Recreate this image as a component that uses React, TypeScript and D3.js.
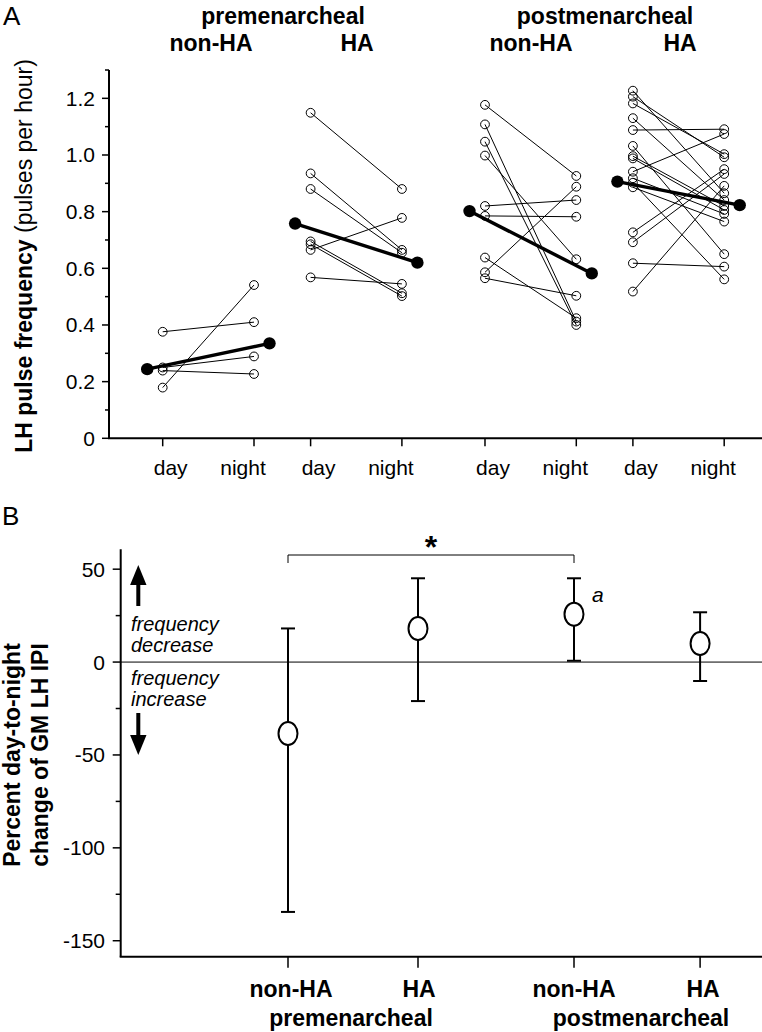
import React from "react";
import * as d3 from "d3";

// ---------- DATA ----------
const stages = ["premenarcheal", "postmenarcheal"];
const groupLabels = ["non-HA", "HA", "non-HA", "HA"];
const sessions = ["day", "night"];

// Panel A: individual LH pulse frequencies (pulses per hour), paired day -> night
const preNonHADay = [0.376, 0.25, 0.239, 0.179];
const preNonHANight = [0.41, 0.289, 0.227, 0.541];
const preHADay = [1.149, 0.935, 0.88, 0.695, 0.685, 0.665, 0.568];
const preHANight = [0.88, 0.665, 0.655, 0.512, 0.502, 0.778, 0.545];
const postNonHADay = [1.177, 1.108, 1.047, 0.998, 0.82, 0.785, 0.638, 0.586, 0.565];
const postNonHANight = [0.926, 0.412, 0.4, 0.632, 0.841, 0.782, 0.424, 0.888, 0.503];
const postHADay = [1.227, 1.206, 1.182, 1.13, 1.088, 1.032, 0.996, 0.988, 0.941, 0.918, 0.902, 0.886, 0.727, 0.692, 0.618, 0.518];
const postHANight = [0.865, 0.992, 1.003, 0.841, 1.091, 0.65, 0.82, 0.806, 1.074, 0.792, 0.561, 0.765, 0.95, 0.933, 0.606, 0.891];
const meanDay = [0.244, 0.758, 0.802, 0.906];
const meanNight = [0.335, 0.62, 0.582, 0.823];
const aTicks = [0, 0.2, 0.4, 0.6, 0.8, 1.0, 1.2];
const aMinorTicks = [0.1, 0.3, 0.5, 0.7, 0.9, 1.1, 1.3];

// Panel B: percent day-to-night change of GM LH IPI
const bMean = [-38.4, 18.1, 25.8, 10];
const bUpper = [18.1, 45.1, 45.1, 26.8];
const bLower = [-134.5, -21, 0.7, -10.2];
const bTicks = [50, 0, -50, -100, -150];
const bMinorTicks = [25, -25, -75, -125];

// ---------- LAYOUT ----------
const W = 762;
const H = 1032;
const FONT = "'Liberation Sans', Arial, Helvetica, sans-serif";

const groupsA = [
  { day: preNonHADay, night: preNonHANight },
  { day: preHADay, night: preHANight },
  { day: postNonHADay, night: postNonHANight },
  { day: postHADay, night: postHANight },
];
// column slots (in day-night spacing units) for each group's day column
const groupSlot = [0, 1.62, 3.53, 5.15];

const yA = d3.scaleLinear().domain([0, 1.3]).range([438.3, 70]);
const xA = d3.scaleLinear().domain([0, 1]).range([162.7, 254]);
const axA = 109;

const yB = d3.scaleLinear().domain([-158.6, 60.7]).range([956.7, 549.3]);
const bSlot = [0, 1, 2.2, 3.17];
const xB = d3.scaleLinear().domain([0, 1]).range([288, 418]);
const axB = 120.7;

const fmtA = (v: number) => (v === 0 ? "0" : d3.format(".1f")(v));

export default function App() {
  const meanOff = 15.5;
  return (
    <svg
      width={W}
      height={H}
      viewBox={`0 0 ${W} ${H}`}
      style={{ position: "absolute", left: 0, top: 0, background: "#fff" }}
      fontFamily={FONT}
    >
      <rect x={0} y={0} width={W} height={H} fill="#fff" />
      {/* ===== Panel A ===== */}
      <text x={3} y={25} fontSize={26}>A</text>

      {/* headers */}
      {stages.map((s, i) => (
        <text key={s} x={[283, 605][i]} y={24} fontSize={23} fontWeight="bold" textAnchor="middle">
          {s}
        </text>
      ))}
      {groupLabels.map((g, i) => (
        <text key={"ga" + i} x={[211, 357, 531, 680][i]} y={51} fontSize={23} fontWeight="bold" textAnchor="middle">
          {g}
        </text>
      ))}

      {/* y axis A */}
      <line x1={axA} x2={axA} y1={yA(1.3)} y2={yA(0)} stroke="#000" strokeWidth={2} />
      {aTicks.map((t) => (
        <g key={"at" + t}>
          <line x1={axA - 7} x2={axA} y1={yA(t)} y2={yA(t)} stroke="#000" strokeWidth={1.5} />
          <text x={95} y={yA(t) + 7.5} fontSize={21} textAnchor="end">
            {fmtA(t)}
          </text>
        </g>
      ))}
      {aMinorTicks.map((t) => (
        <line key={"am" + t} x1={axA - 4} x2={axA} y1={yA(t)} y2={yA(t)} stroke="#000" strokeWidth={1.5} />
      ))}
      {/* x axis A */}
      <line x1={axA - 1} x2={W} y1={yA(0)} y2={yA(0)} stroke="#000" strokeWidth={2} />
      {groupSlot.map((g, gi) =>
        sessions.map((s, si) => (
          <g key={"xa" + gi + s}>
            <line x1={xA(g + si)} x2={xA(g + si)} y1={yA(0)} y2={yA(0) + 8} stroke="#000" strokeWidth={1.5} />
            <text x={xA(g + si) + (si === 0 ? 8 : -11)} y={475} fontSize={21} textAnchor="middle">
              {s}
            </text>
          </g>
        ))
      )}
      {/* y label A */}
      <text transform={`translate(32,256) rotate(-90)`} fontSize={23} textAnchor="middle">
        <tspan fontWeight="bold">LH pulse frequency</tspan>
        <tspan> (pulses per hour)</tspan>
      </text>

      {/* individual lines */}
      {groupsA.map((g, gi) => (
        <g key={"grp" + gi}>
          {g.day.map((d, i) => (
            <line
              key={"l" + i}
              x1={xA(groupSlot[gi])}
              y1={yA(d)}
              x2={xA(groupSlot[gi] + 1)}
              y2={yA(g.night[i])}
              stroke="#000"
              strokeWidth={1}
            />
          ))}
          {g.day.map((d, i) => (
            <circle key={"cd" + i} cx={xA(groupSlot[gi])} cy={yA(d)} r={4.4} fill="none" stroke="#000" strokeWidth={1} />
          ))}
          {g.night.map((d, i) => (
            <circle key={"cn" + i} cx={xA(groupSlot[gi] + 1)} cy={yA(d)} r={4.4} fill="none" stroke="#000" strokeWidth={1} />
          ))}
          <line
            x1={xA(groupSlot[gi]) - meanOff}
            y1={yA(meanDay[gi])}
            x2={xA(groupSlot[gi] + 1) + meanOff}
            y2={yA(meanNight[gi])}
            stroke="#000"
            strokeWidth={3.4}
          />
          <circle cx={xA(groupSlot[gi]) - meanOff} cy={yA(meanDay[gi])} r={6.2} fill="#000" />
          <circle cx={xA(groupSlot[gi] + 1) + meanOff} cy={yA(meanNight[gi])} r={6.2} fill="#000" />
        </g>
      ))}

      {/* ===== Panel B ===== */}
      <text x={2} y={525} fontSize={26}>B</text>

      <line x1={axB} x2={axB} y1={yB(60.7)} y2={yB(-158.6)} stroke="#000" strokeWidth={2} />
      {bTicks.map((t) => (
        <g key={"bt" + t}>
          <line x1={axB - 8} x2={axB} y1={yB(t)} y2={yB(t)} stroke="#000" strokeWidth={1.5} />
          <text x={105} y={yB(t) + 7.5} fontSize={21} textAnchor="end">
            {t}
          </text>
        </g>
      ))}
      {bMinorTicks.map((t) => (
        <line key={"bm" + t} x1={axB - 5} x2={axB} y1={yB(t)} y2={yB(t)} stroke="#000" strokeWidth={1.5} />
      ))}
      <line x1={axB - 1} x2={W} y1={yB(-158.6)} y2={yB(-158.6)} stroke="#000" strokeWidth={2} />
      <line x1={axB} x2={W} y1={yB(0)} y2={yB(0)} stroke="#000" strokeWidth={1} />

      {/* arrows & annotations */}
      <g>
        <line x1={138.3} x2={138.3} y1={606} y2={580} stroke="#000" strokeWidth={4} />
        <path d="M 138.3 565 L 146.5 585 L 130.1 585 Z" fill="#000" />
        <line x1={138.3} x2={138.3} y1={713} y2={738} stroke="#000" strokeWidth={4} />
        <path d="M 138.3 755 L 146.5 735 L 130.1 735 Z" fill="#000" />
      </g>
      <text x={131} y={631} fontSize={20} fontStyle="italic">frequency</text>
      <text x={131} y={652} fontSize={20} fontStyle="italic">decrease</text>
      <text x={131} y={685} fontSize={20} fontStyle="italic">frequency</text>
      <text x={131} y={706} fontSize={20} fontStyle="italic">increase</text>

      {/* significance bracket */}
      <path
        d={`M ${xB(bSlot[0])} 563 L ${xB(bSlot[0])} 555 L ${xB(bSlot[2])} 555 L ${xB(bSlot[2])} 563`}
        fill="none"
        stroke="#000"
        strokeWidth={1}
      />
      <text x={(xB(bSlot[0]) + xB(bSlot[2])) / 2} y={558} fontSize={32} fontWeight="bold" textAnchor="middle">
        *
      </text>
      <text x={xB(bSlot[2]) + 18} y={602} fontSize={21} fontStyle="italic">a</text>

      {/* error bars */}
      {bMean.map((m, i) => {
        const x = xB(bSlot[i]);
        return (
          <g key={"eb" + i}>
            <line x1={x} x2={x} y1={yB(bUpper[i])} y2={yB(bLower[i])} stroke="#000" strokeWidth={2} />
            <line x1={x - 7} x2={x + 7} y1={yB(bUpper[i])} y2={yB(bUpper[i])} stroke="#000" strokeWidth={2} />
            <line x1={x - 7} x2={x + 7} y1={yB(bLower[i])} y2={yB(bLower[i])} stroke="#000" strokeWidth={2} />
            <ellipse cx={x} cy={yB(m)} rx={9.5} ry={11.5} fill="#fff" stroke="#000" strokeWidth={2} />
          </g>
        );
      })}

      {/* x axis B ticks and labels */}
      {bSlot.map((s, i) => (
        <g key={"bx" + i}>
          <line x1={xB(s)} x2={xB(s)} y1={yB(-158.6)} y2={yB(-158.6) + 11} stroke="#000" strokeWidth={1.5} />
          <text x={[291, 419, 574, 703][i]} y={997} fontSize={23} fontWeight="bold" textAnchor="middle">
            {groupLabels[i]}
          </text>
        </g>
      ))}
      {stages.map((s, i) => (
        <text key={"bs" + s} x={[351, 641][i]} y={1026} fontSize={23} fontWeight="bold" textAnchor="middle">
          {s}
        </text>
      ))}

      {/* y label B */}
      <text transform={`translate(20,755) rotate(-90)`} fontSize={23} fontWeight="bold" textAnchor="middle">
        Percent day-to-night
      </text>
      <text transform={`translate(48,755) rotate(-90)`} fontSize={23} fontWeight="bold" textAnchor="middle">
        change of GM LH IPI
      </text>
    </svg>
  );
}
